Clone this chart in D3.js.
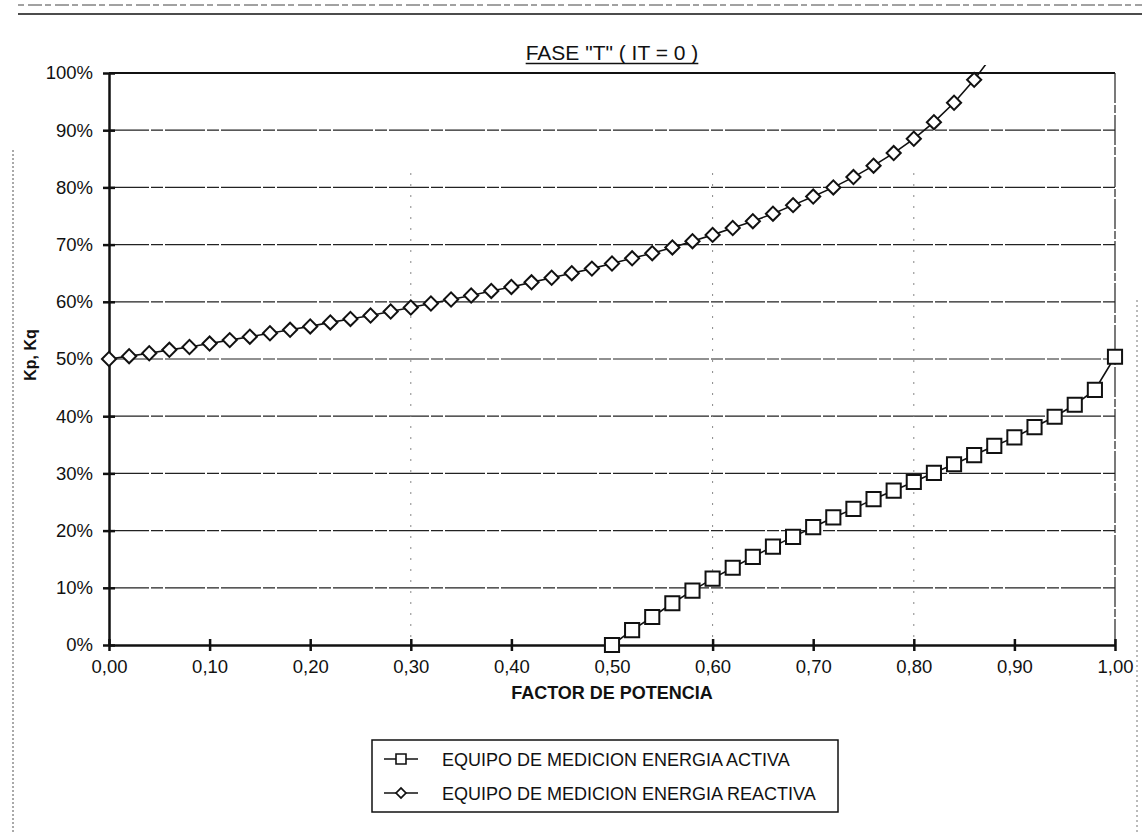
<!DOCTYPE html>
<html><head><meta charset="utf-8">
<script src="https://cdn.jsdelivr.net/npm/d3@7"></script>
<style>
html,body{margin:0;padding:0;background:#fff;}
svg{display:block;}
text{font-family:"Liberation Sans",Arial,sans-serif;fill:#111;}
</style></head>
<body>
<svg id="chart" width="1142" height="832"></svg>
<script>
const titleText = 'FASE "T" ( IT = 0 )';
const xLabel = "FACTOR DE POTENCIA";
const yLabel = "Kp, Kq";
const xTicks = [0,0.1,0.2,0.3,0.4,0.5,0.6,0.7,0.8,0.9,1.0];
const yTicks = [0,10,20,30,40,50,60,70,80,90,100];
const activeName = "EQUIPO DE MEDICION ENERGIA ACTIVA";
const reactiveName = "EQUIPO DE MEDICION ENERGIA REACTIVA";
const activePF = [0.50,0.52,0.54,0.56,0.58,0.60,0.62,0.64,0.66,0.68,0.70,0.72,0.74,0.76,0.78,0.80,0.82,0.84,0.86,0.88,0.90,0.92,0.94,0.96,0.98,1.00];
const activeVal = [0.0,2.6,4.9,7.3,9.5,11.6,13.5,15.4,17.2,18.9,20.6,22.3,23.8,25.5,27.0,28.5,30.1,31.6,33.2,34.8,36.3,38.1,39.9,42.0,44.6,50.4];
const reactivePF = [0.00,0.02,0.04,0.06,0.08,0.10,0.12,0.14,0.16,0.18,0.20,0.22,0.24,0.26,0.28,0.30,0.32,0.34,0.36,0.38,0.40,0.42,0.44,0.46,0.48,0.50,0.52,0.54,0.56,0.58,0.60,0.62,0.64,0.66,0.68,0.70,0.72,0.74,0.76,0.78,0.80,0.82,0.84,0.86,0.88];
const reactiveVal = [50.0,50.5,51.0,51.6,52.1,52.7,53.3,53.9,54.5,55.1,55.7,56.4,57.0,57.6,58.3,59.0,59.7,60.4,61.1,61.9,62.6,63.4,64.2,65.0,65.8,66.7,67.6,68.5,69.5,70.6,71.7,72.9,74.1,75.4,76.9,78.4,80.0,81.8,83.8,86.0,88.5,91.4,94.8,98.8,103.5];

const svg = d3.select("#chart");
const L = 109, R = 1115, T = 73, B = 645;
const x = d3.scaleLinear().domain([0,1]).range([L,R]);
const y = d3.scaleLinear().domain([0,100]).range([B,T]);

// page scan frame lines
svg.append("line").attr("x1",18).attr("x2",1142).attr("y1",5).attr("y2",5)
  .attr("stroke","#444").attr("stroke-width",1).attr("stroke-dasharray","6 4 14 3");
svg.append("line").attr("x1",18).attr("x2",1142).attr("y1",14).attr("y2",14)
  .attr("stroke","#111").attr("stroke-width",1.5);
svg.append("line").attr("x1",13).attr("x2",13).attr("y1",150).attr("y2",832)
  .attr("stroke","#555").attr("stroke-width",1).attr("stroke-dasharray","2 2");
svg.append("line").attr("x1",1137).attr("x2",1137).attr("y1",300).attr("y2",832)
  .attr("stroke","#777").attr("stroke-width",1).attr("stroke-dasharray","2 3");

// horizontal gridlines
svg.append("g").selectAll("line").data(yTicks.filter(d=>d>0 && d<100)).join("line")
  .attr("x1",L).attr("x2",R).attr("y1",d=>y(d)).attr("y2",d=>y(d))
  .attr("stroke","#222").attr("stroke-width",1.2).attr("stroke-dasharray","40 2 12 2");
// faint vertical scan marks
svg.append("g").selectAll("line").data([0.3,0.6,0.8]).join("line")
  .attr("x1",d=>x(d)).attr("x2",d=>x(d)).attr("y1",T+100).attr("y2",B)
  .attr("stroke","#888").attr("stroke-width",1).attr("stroke-dasharray","2 9");
// top border, right border
svg.append("line").attr("x1",L).attr("x2",R).attr("y1",T).attr("y2",T).attr("stroke","#111").attr("stroke-width",1.8);
svg.append("line").attr("x1",R).attr("x2",R).attr("y1",T).attr("y2",B).attr("stroke","#222").attr("stroke-width",1.2).attr("stroke-dasharray","30 2 8 2");

// axes
const yAxis = d3.axisLeft(y).tickValues(yTicks).tickFormat(d=>d+"%").tickSizeInner(6).tickSizeOuter(0).tickPadding(10);
const gy = svg.append("g").attr("transform",`translate(${L},0)`).call(yAxis);
gy.select(".domain").attr("stroke","#111").attr("stroke-width",2.5);
gy.selectAll(".tick line").attr("x1",-6).attr("x2",6).attr("stroke","#111").attr("stroke-width",2.5);
gy.selectAll(".tick text").attr("font-size",18.5).attr("font-family","Liberation Sans, Arial").attr("fill","#111");

const xAxis = d3.axisBottom(x).tickValues(xTicks).tickFormat(d=>d3.format(".2f")(d).replace(".",",")).tickSizeInner(6).tickSizeOuter(0).tickPadding(9);
const gx = svg.append("g").attr("transform",`translate(0,${B})`).call(xAxis);
gx.select(".domain").attr("stroke","#111").attr("stroke-width",2.5);
gx.selectAll(".tick line").attr("y1",-6).attr("y2",6).attr("stroke","#111").attr("stroke-width",2.5);
gx.selectAll(".tick text").attr("font-size",18.5).attr("font-family","Liberation Sans, Arial").attr("fill","#111");

// title
const title = svg.append("text").attr("x",(L+R)/2).attr("y",60).attr("text-anchor","middle")
  .attr("font-size",21).text(titleText);
const tb = title.node().getBBox();
svg.append("line").attr("x1",tb.x).attr("x2",tb.x+tb.width).attr("y1",63.5).attr("y2",63.5).attr("stroke","#111").attr("stroke-width",1.5);

// axis titles
svg.append("text").attr("x",(L+R)/2).attr("y",699).attr("text-anchor","middle")
  .attr("font-size",18).attr("font-weight","bold").text(xLabel);
svg.append("text").attr("transform","translate(36,355) rotate(-90)").attr("text-anchor","middle")
  .attr("font-size",16).attr("font-weight","bold").text(yLabel);

// clip
svg.append("defs").append("clipPath").attr("id","clip").append("rect")
  .attr("x",L-10).attr("y",T-8).attr("width",R-L+20).attr("height",B-T+18);

const line = d3.line().x(d=>x(d[0])).y(d=>y(d[1]));
const reactive = reactivePF.map((p,i)=>[p,reactiveVal[i]]);
const active = activePF.map((p,i)=>[p,activeVal[i]]);
const plot = svg.append("g").attr("clip-path","url(#clip)");
plot.append("path").datum(reactive).attr("d",line).attr("fill","none").attr("stroke","#111").attr("stroke-width",1.6);
plot.append("path").datum(active).attr("d",line).attr("fill","none").attr("stroke","#111").attr("stroke-width",1.6);

const diamond = d3.symbol().type(d3.symbolSquare).size(100)();
plot.selectAll(".dia").data(reactive.filter(d=>d[1]<=100)).join("path").attr("class","dia")
  .attr("d",diamond).attr("transform",d=>`translate(${x(d[0])},${y(d[1])}) rotate(45)`)
  .attr("fill","#fff").attr("stroke","#111").attr("stroke-width",2);
const sq = d3.symbol().type(d3.symbolSquare).size(200)();
plot.selectAll(".sq").data(active).join("path").attr("class","sq")
  .attr("d",sq).attr("transform",d=>`translate(${x(d[0])},${y(d[1])})`)
  .attr("fill","#fff").attr("stroke","#111").attr("stroke-width",2);

// legend
const lg = svg.append("g");
const lx = 372, ly = 740, lw = 466, lh = 72;
lg.append("rect").attr("x",lx).attr("y",ly).attr("width",lw).attr("height",lh)
  .attr("fill","#fff").attr("stroke","#111").attr("stroke-width",1.5);
const rows = [{name:activeName, type:"sq"},{name:reactiveName, type:"dia"}];
rows.forEach((r,i)=>{
  const cy = ly + 19 + i*34;
  lg.append("line").attr("x1",lx+12).attr("x2",lx+46).attr("y1",cy).attr("y2",cy).attr("stroke","#111").attr("stroke-width",1.6);
  if (r.type==="sq") {
    lg.append("path").attr("d",d3.symbol().type(d3.symbolSquare).size(100)()).attr("transform",`translate(${lx+29},${cy})`)
      .attr("fill","#fff").attr("stroke","#111").attr("stroke-width",1.6);
  } else {
    lg.append("path").attr("d",d3.symbol().type(d3.symbolSquare).size(50)()).attr("transform",`translate(${lx+29},${cy}) rotate(45)`)
      .attr("fill","#fff").attr("stroke","#111").attr("stroke-width",1.6);
  }
  lg.append("text").attr("x",lx+70).attr("y",cy+6.5).attr("font-size",18).text(r.name);
});
</script>
</body></html>
